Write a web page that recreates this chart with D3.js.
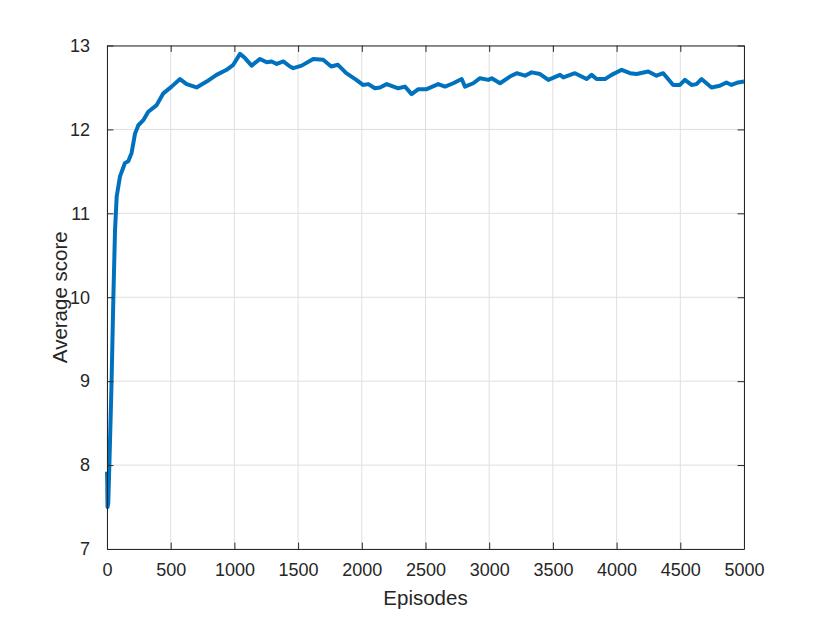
<!doctype html>
<html>
  <head>
    <meta charset="utf-8">
    <title>Average score</title>
    <style>
      body { margin: 0; background: #fff; }
      text { font-family: "Liberation Sans", Arial, Helvetica, sans-serif; fill: #262626; }
    </style>
  </head>
  <body>
    <script src="https://d3js.org/d3.v7.min.js"></script>
    <script>
      // data
      var episodes = [0, 2, 4, 10, 23, 36, 50, 63, 76, 102, 141, 167, 193, 220, 246, 285, 324, 390, 442, 507, 573, 625, 703, 782, 860, 939, 991, 1044, 1083, 1135, 1201, 1253, 1292, 1332, 1384, 1436, 1462, 1528, 1619, 1697, 1760, 1813, 1878, 1957, 2009, 2051, 2103, 2143, 2195, 2286, 2339, 2391, 2444, 2509, 2600, 2653, 2718, 2784, 2810, 2875, 2928, 2993, 3020, 3085, 3163, 3216, 3281, 3333, 3399, 3464, 3556, 3582, 3673, 3765, 3804, 3843, 3909, 3961, 4040, 4105, 4157, 4248, 4313, 4366, 4444, 4497, 4536, 4588, 4627, 4666, 4745, 4810, 4862, 4902, 4954, 5000];
      var scores = [7.92, 7.8, 7.5, 7.55, 8.25, 9.0, 10.0, 10.8, 11.2, 11.44, 11.6, 11.62, 11.72, 11.95, 12.05, 12.11, 12.21, 12.29, 12.43, 12.51, 12.6, 12.54, 12.5, 12.57, 12.65, 12.71, 12.77, 12.9, 12.85, 12.76, 12.84, 12.8, 12.81, 12.78, 12.81, 12.75, 12.73, 12.76, 12.84, 12.83, 12.75, 12.77, 12.67, 12.59, 12.53, 12.54, 12.49, 12.5, 12.54, 12.49, 12.51, 12.42, 12.48, 12.48, 12.54, 12.51, 12.55, 12.6, 12.51, 12.55, 12.61, 12.59, 12.61, 12.55, 12.63, 12.67, 12.64, 12.68, 12.66, 12.59, 12.65, 12.62, 12.67, 12.6, 12.65, 12.6, 12.6, 12.65, 12.71, 12.67, 12.66, 12.69, 12.64, 12.67, 12.53, 12.53, 12.59, 12.53, 12.54, 12.6, 12.5, 12.52, 12.56, 12.53, 12.56, 12.57];
      var xTicks = [0, 500, 1000, 1500, 2000, 2500, 3000, 3500, 4000, 4500, 5000];
      var yTicks = [7, 8, 9, 10, 11, 12, 13];

      var w = 822, h = 617;
      var pLeft = 107, pRight = 744, pTop = 45.5, pBottom = 549;

      var svg = d3.select("body").append("svg")
        .attr("width", w)
        .attr("height", h);

      var x = d3.scaleLinear().domain([0, 5000]).range([pLeft, pRight]);
      var y = d3.scaleLinear().domain([7, 13]).range([pBottom, pTop]);

      // grid
      var grid = svg.append("g");
      grid.selectAll(".gx").data(xTicks).enter().append("line")
        .attr("x1", function(d) { return x(d); })
        .attr("x2", function(d) { return x(d); })
        .attr("y1", pTop).attr("y2", pBottom)
        .style("stroke", "#dfdfdf").style("stroke-width", 1);
      grid.selectAll(".gy").data(yTicks).enter().append("line")
        .attr("y1", function(d) { return y(d); })
        .attr("y2", function(d) { return y(d); })
        .attr("x1", pLeft).attr("x2", pRight)
        .style("stroke", "#dfdfdf").style("stroke-width", 1);

      // line
      var line = d3.line()
        .x(function(d, i) { return x(episodes[i]); })
        .y(function(d) { return y(d); });

      svg.append("path")
        .datum(scores)
        .attr("d", line)
        .style("fill", "none")
        .style("stroke", "#0072BD")
        .style("stroke-width", 4)
        .style("stroke-linejoin", "round");

      // axes, box with inward ticks
      var tk = 6.4;
      var xAxis = d3.axisBottom(x).tickValues(xTicks).tickFormat(d3.format("d")).tickSizeInner(-tk).tickSizeOuter(0).tickPadding(14);
      var xAxisTop = d3.axisTop(x).tickValues(xTicks).tickSizeInner(-tk).tickSizeOuter(0).tickFormat("");
      var yAxis = d3.axisLeft(y).tickValues(yTicks).tickFormat(d3.format("d")).tickSizeInner(-tk).tickSizeOuter(0).tickPadding(17);
      var yAxisRight = d3.axisRight(y).tickValues(yTicks).tickSizeInner(-tk).tickSizeOuter(0).tickFormat("");

      function style(g) {
        g.select(".domain").style("stroke", "#262626");
        g.selectAll(".tick line").style("stroke", "#262626");
        g.selectAll("text").style("font-size", "18px").style("fill", "#262626")
          .style("font-family", "'Liberation Sans', Arial, sans-serif");
      }

      svg.append("g").attr("transform", "translate(0," + pBottom + ")").call(xAxis).call(style);
      svg.append("g").attr("transform", "translate(0," + pTop + ")").call(xAxisTop).call(style);
      svg.append("g").attr("transform", "translate(" + pLeft + ",0)").call(yAxis).call(style);
      svg.append("g").attr("transform", "translate(" + pRight + ",0)").call(yAxisRight).call(style);

      // labels
      svg.append("text")
        .attr("x", (pLeft + pRight) / 2)
        .attr("y", 605)
        .attr("text-anchor", "middle")
        .style("font-size", "20.5px")
        .text("Episodes");

      svg.append("text")
        .attr("transform", "translate(67," + ((pTop + pBottom) / 2) + ") rotate(-90)")
        .attr("text-anchor", "middle")
        .style("font-size", "20.5px")
        .text("Average score");
    </script>
  </body>
</html>
